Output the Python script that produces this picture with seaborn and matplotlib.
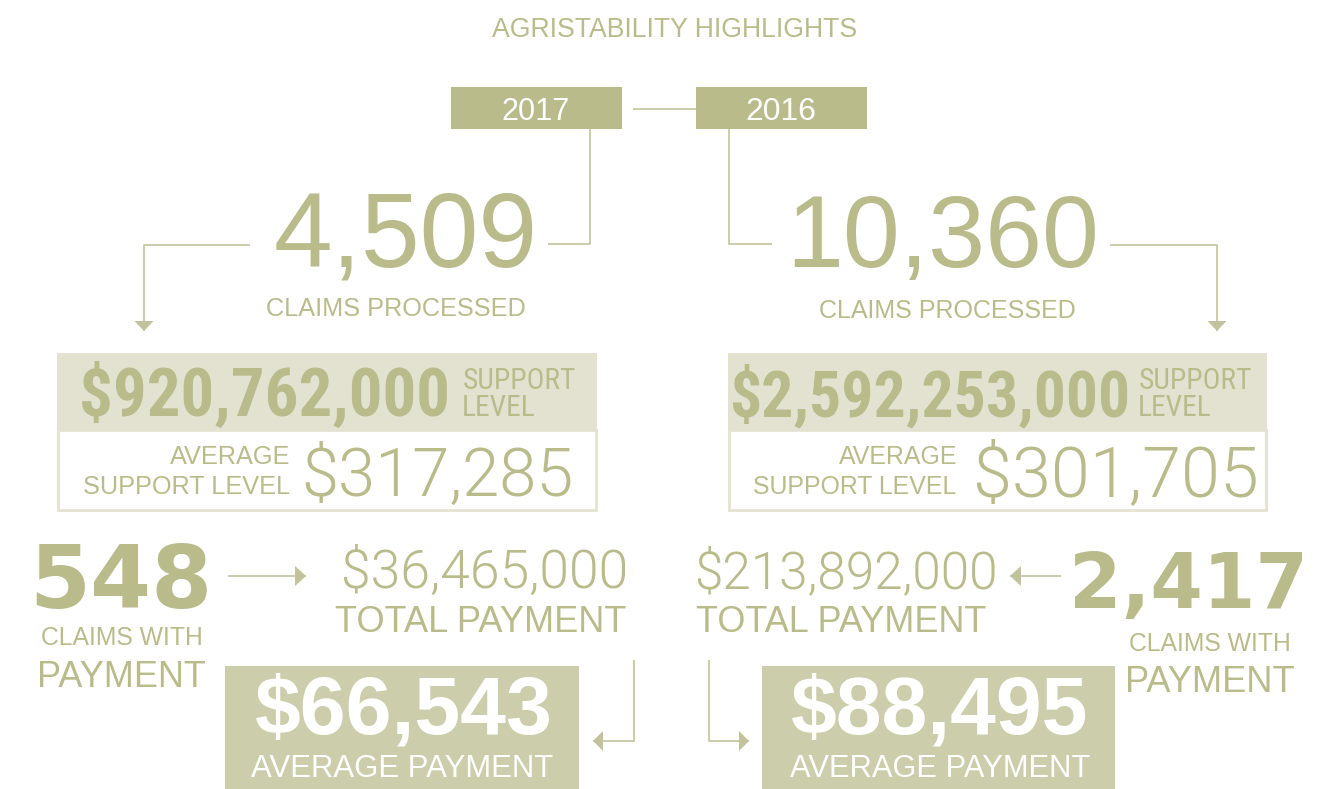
import matplotlib
matplotlib.use("Agg")
import matplotlib.pyplot as plt
import seaborn as sns
from matplotlib import font_manager as fm
from matplotlib.font_manager import FontProperties
from matplotlib.patches import Rectangle
from matplotlib.textpath import TextPath

# ── Data ──────────────────────────────────────────────────────────────
title = "AGRISTABILITY HIGHLIGHTS"
years = ["2017", "2016"]
claims_processed = [4509, 10360]
support_level = [920762000, 2592253000]
avg_support_level = [317285, 301705]
claims_with_payment = [548, 2417]
total_payment = [36465000, 213892000]
avg_payment = [66543, 88495]

OLIVE = "#b9bb8a"
LINE = "#c2c39c"
PALE = "#e3e2d1"
AVG_BOX = "#cccdab"

sns.set_theme(style="white")

# ── Fonts: take the first installed candidate ─────────────────────────
_entries = []
for f in fm.fontManager.ttflist:
    w = f.weight
    if isinstance(w, str):
        w = fm.weight_dict.get(w, 400)
    _entries.append((f.name, int(w)))


def pick(*options):
    for name, weight in options:
        if any(n == name and abs(w - weight) <= 50 for n, w in _entries):
            return {"family": name, "weight": weight}
    return {"family": "DejaVu Sans", "weight": 400}


REG = pick(("Liberation Sans", 400), ("DejaVu Sans", 400))
LIGHT = pick(("Roboto", 300), ("Lato", 300), ("Open Sans", 300), ("Liberation Sans", 400))
COND = pick(("Roboto Condensed", 400), ("Liberation Sans Narrow", 400), ("Liberation Sans", 400))
COND_BOLD = pick(("Roboto Condensed", 700), ("Liberation Sans Narrow", 700), ("Liberation Sans", 700))
BOLD = pick(("Liberation Sans", 700), ("DejaVu Sans", 700))
BLACK = pick(("DejaVu Sans", 700))

fig = plt.figure(figsize=(13.27, 7.89), dpi=100)
ax = fig.add_axes([0, 0, 1, 1])
ax.set_xlim(0, 1327)
ax.set_ylim(789, 0)
ax.axis("off")


def fit_text(s, x0, x1, base, cap, font, color=OLIVE, align="center", size=None, mode="min"):
    """Place text so its ink fits the span x0..x1 with the given cap height."""
    prop = FontProperties(family=font["family"], weight=font["weight"])
    ink = TextPath((0, 0), s, size=100, prop=prop).get_extents()
    cap_h = TextPath((0, 0), "H", size=100, prop=prop).get_extents().height
    if size is None:
        by_w = (x1 - x0) / ink.width * 100
        by_h = cap / cap_h * 100
        size = min(by_w, by_h) if mode == "min" else (by_w * by_h) ** 0.5
    w = ink.width * size / 100
    if align == "left":
        left = x0
    elif align == "right":
        left = x1 - w
    else:
        left = (x0 + x1) / 2 - w / 2
    ax.text(left - ink.x0 * size / 100, base, s, fontproperties=prop,
            fontsize=size * 72 / fig.dpi, color=color, ha="left", va="baseline")
    return size


def connector(xs, ys, head=True, length=10, half=9.5):
    ax.plot(xs, ys, color=LINE, lw=1.2, solid_capstyle="butt")
    if head:
        tx, ty = xs[-1], ys[-1]
        dx, dy = xs[-1] - xs[-2], ys[-1] - ys[-2]
        n = (dx ** 2 + dy ** 2) ** 0.5
        dx, dy = dx / n, dy / n
        bx, by = tx - dx * length, ty - dy * length
        ax.fill([tx, bx - dy * half, bx + dy * half], [ty, by + dx * half, by - dx * half],
                color=LINE, lw=0)


def money(v):
    return f"${v:,}"


# ── Title and year tabs ───────────────────────────────────────────────
fit_text(title, 492, 857, 37, 19, REG)

tabs = [dict(box=(451, 87, 171, 42), ink=(503, 568)),
        dict(box=(696, 87, 171, 42), ink=(747, 815))]
for year, tab in zip(years, tabs):
    ax.add_patch(Rectangle(tab["box"][:2], *tab["box"][2:], fc=OLIVE, lw=0))
    fit_text(year, *tab["ink"], 120, 23, REG, color="white")
connector([633, 696], [109, 109], head=False)

# ── Per-year layout (pixel positions only) ────────────────────────────
layout = [
    dict(tab_line=([590, 590, 548], [129, 244, 244]),
         down_line=([250, 144, 144], [245, 245, 331]),
         claims=(276, 533), claims_lbl=(267, 524, 316, 18),
         box_x=(57, 597),
         support=(82, 447), support_lbl=(464, 586),
         avg_lbl=(84, 289), avg=(305, 571),
         cwp=(35, 209), cwp_lbl1=(39, 204, 645, 17), cwp_lbl2=(40, 205, 687, 27),
         pay_arrow=([228, 306], [576, 576]),
         total=(337, 633), total_lbl=(336, 626),
         bracket=([634, 634, 593], [660, 741, 741]),
         avg_box=(225, 354), avgpay=(249, 557), avgpay_lbl=(251, 553)),
    dict(tab_line=([729, 729, 772], [129, 244, 244]),
         down_line=([1110, 1217, 1217], [245, 245, 331]),
         claims=(794, 1095), claims_lbl=(820, 1075, 318, 19),
         box_x=(728, 1267),
         support=(732, 1127), support_lbl=(1140, 1257),
         avg_lbl=(754, 956), avg=(977, 1256),
         cwp=(1075, 1302), cwp_lbl1=(1128, 1292, 651, 17), cwp_lbl2=(1128, 1294, 692, 25),
         pay_arrow=([1061, 1010], [576, 576]),
         total=(697, 995), total_lbl=(697, 986),
         bracket=([709, 709, 749], [660, 741, 741]),
         avg_box=(762, 353), avgpay=(785, 1093), avgpay_lbl=(790, 1090)),
]

for i, lay in enumerate(layout):
    connector(*lay["tab_line"], head=False)
    connector(*lay["down_line"])

    # claims processed
    fit_text(f"{claims_processed[i]:,}", *lay["claims"], 267, 75, REG)
    fit_text("CLAIMS PROCESSED", *lay["claims_lbl"], REG)

    # support level panel
    bx0, bx1 = lay["box_x"]
    ax.add_patch(Rectangle((bx0, 353), bx1 - bx0, 77, fc=PALE, lw=0))
    ax.add_patch(Rectangle((bx0 + 1, 430), bx1 - bx0 - 2, 80, fc="white", ec=PALE, lw=2))
    fit_text(money(support_level[i]), *lay["support"], 416, 48, COND_BOLD)
    sz = fit_text("SUPPORT", *lay["support_lbl"], 389, 21, COND, align="left")
    fit_text("LEVEL", lay["support_lbl"][0], lay["support_lbl"][1], 416, 21, COND,
             align="left", size=sz)
    sz = fit_text("SUPPORT LEVEL", *lay["avg_lbl"], 494, 18, REG, align="right")
    fit_text("AVERAGE", *lay["avg_lbl"], 464, 18, REG, align="right", size=sz)
    fit_text(money(avg_support_level[i]), *lay["avg"], 496, 50, LIGHT)

    # claims with payment and total payment
    fit_text(f"{claims_with_payment[i]:,}", *lay["cwp"], 608, 64, BLACK)
    fit_text("CLAIMS WITH", *lay["cwp_lbl1"], REG)
    fit_text("PAYMENT", *lay["cwp_lbl2"], REG)
    connector(*lay["pay_arrow"], length=11, half=10)
    fit_text(money(total_payment[i]), *lay["total"], 588, 38, LIGHT)
    fit_text("TOTAL PAYMENT", *lay["total_lbl"], 632, 26, REG)

    # average payment
    connector(*lay["bracket"], length=10, half=10)
    ax.add_patch(Rectangle((lay["avg_box"][0], 666), lay["avg_box"][1], 123, fc=AVG_BOX, lw=0))
    fit_text(money(avg_payment[i]), *lay["avgpay"], 734, 54, BOLD, color="white", mode="mean")
    fit_text("AVERAGE PAYMENT", *lay["avgpay_lbl"], 777, 23, REG, color="white")

fig.savefig("out.png", dpi=100)
